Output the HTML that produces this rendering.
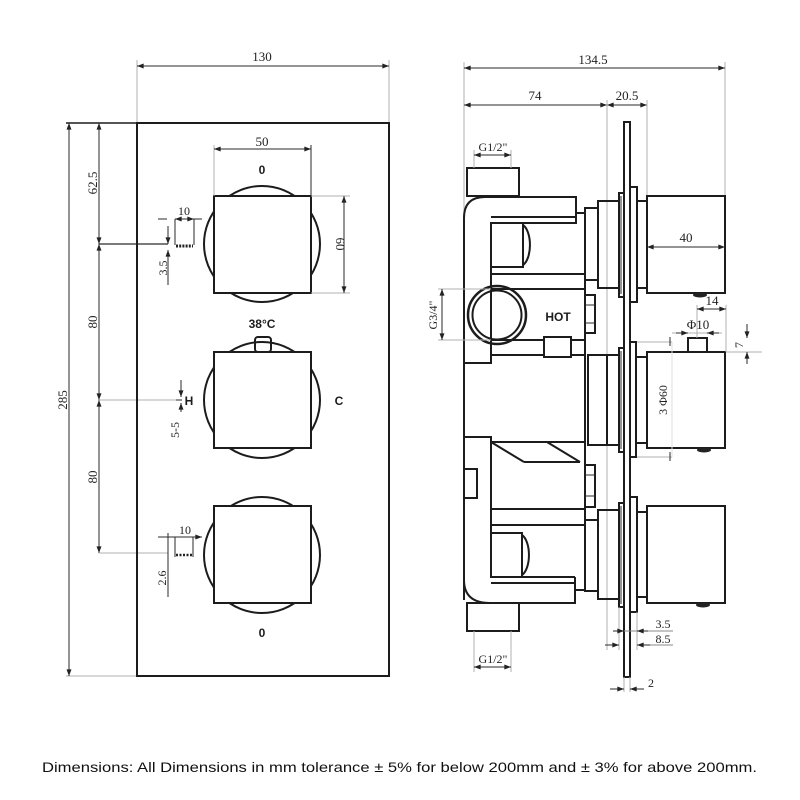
<!DOCTYPE html>
<html><head><meta charset="utf-8"><style>
html,body{margin:0;padding:0;background:#fff;}
svg{display:block;}
.o{fill:none;stroke:#1c1c1c;stroke-width:2;}
.w{fill:#fff;stroke:#1c1c1c;stroke-width:2;}
.d{fill:none;stroke:#2a2a2a;stroke-width:1;}
.g{fill:none;stroke:#b0b0b0;stroke-width:1;}
.t{font-family:"Liberation Serif",serif;font-size:13px;fill:#222;}
.b{font-family:"Liberation Sans",sans-serif;font-size:12px;font-weight:bold;fill:#1c1c1c;}
</style></head><body>
<svg width="800" height="800" viewBox="0 0 800 800" xmlns="http://www.w3.org/2000/svg">
<defs>
<marker id="a" viewBox="0 0 8 6" refX="8" refY="3" markerWidth="7" markerHeight="5" orient="auto-start-reverse" markerUnits="userSpaceOnUse"><path d="M0,0 L8,3 L0,6 z" fill="#222"/></marker>
</defs>

<!-- ================= LEFT: FRONT VIEW ================= -->
<!-- 130 dim -->
<line class="g" x1="137" y1="60" x2="137" y2="123"/>
<line class="g" x1="389" y1="60" x2="389" y2="123"/>
<line class="d" x1="137" y1="66" x2="389" y2="66" marker-start="url(#a)" marker-end="url(#a)"/>
<text class="t" x="262" y="61" text-anchor="middle">130</text>

<!-- 285 dim -->
<line class="o" x1="66" y1="123" x2="137" y2="123" style="stroke-width:1.5"/>
<line class="g" x1="66" y1="676" x2="137" y2="676"/>
<line class="d" x1="69" y1="123" x2="69" y2="676" marker-start="url(#a)" marker-end="url(#a)"/>
<text class="t" transform="translate(67,400) rotate(-90)" text-anchor="middle">285</text>

<!-- inner chain dims -->
<line class="d" x1="99" y1="123" x2="99" y2="244" marker-start="url(#a)" marker-end="url(#a)"/>
<line class="d" x1="99" y1="244" x2="99" y2="400" marker-start="url(#a)" marker-end="url(#a)"/>
<line class="d" x1="99" y1="400" x2="99" y2="553" marker-start="url(#a)" marker-end="url(#a)"/>
<text class="t" transform="translate(97,183) rotate(-90)" text-anchor="middle">62.5</text>
<text class="t" transform="translate(97,322) rotate(-90)" text-anchor="middle">80</text>
<text class="t" transform="translate(97,477) rotate(-90)" text-anchor="middle">80</text>
<line class="d" x1="99" y1="244" x2="168" y2="244" style="stroke-width:1.3"/>
<line class="g" x1="99" y1="400" x2="180" y2="400"/>
<line class="g" x1="99" y1="553" x2="168" y2="553"/>

<!-- plate -->
<rect class="o" x="137" y="123" width="252" height="553"/>

<!-- knob 1 -->
<circle class="o" cx="262" cy="244" r="58"/>
<rect class="w" x="214" y="196" width="97" height="97"/>
<!-- knob 2 -->
<rect class="o" x="255" y="337" width="16" height="15" rx="3"/>
<circle class="o" cx="262" cy="400" r="58"/>
<rect class="w" x="214" y="352" width="97" height="96"/>
<!-- knob 3 -->
<circle class="o" cx="262" cy="555" r="58"/>
<rect class="w" x="214" y="506" width="97" height="97"/>

<!-- 50 dim -->
<line class="g" x1="214" y1="145" x2="214" y2="196"/>
<line class="d" x1="311" y1="145" x2="311" y2="196"/>
<line class="d" x1="214" y1="149" x2="311" y2="149" marker-start="url(#a)" marker-end="url(#a)"/>
<text class="t" x="262" y="146" text-anchor="middle">50</text>
<text class="b" x="262" y="174" text-anchor="middle">0</text>

<!-- 60 dim -->
<line class="g" x1="311" y1="196" x2="350" y2="196"/>
<line class="g" x1="311" y1="293" x2="350" y2="293"/>
<line class="d" x1="344" y1="196" x2="344" y2="293" marker-start="url(#a)" marker-end="url(#a)"/>
<text class="t" transform="translate(336,244) rotate(90)" text-anchor="middle">60</text>

<!-- detail 10 / 3.5 -->
<line class="d" x1="158" y1="219" x2="167" y2="219"/>
<line class="d" x1="175" y1="219" x2="194" y2="219" marker-start="url(#a)" marker-end="url(#a)"/>
<line class="d" x1="194" y1="219" x2="202" y2="219"/>
<line class="d" x1="175" y1="219" x2="175" y2="245"/>
<line class="d" x1="194" y1="219" x2="194" y2="245"/>
<path d="M176 246 L193 246" stroke="#222" stroke-width="3" stroke-dasharray="2 1.2"/>
<text class="t" x="184" y="215" text-anchor="middle" style="font-size:12px">10</text>
<line class="d" x1="168" y1="226" x2="168" y2="244" marker-end="url(#a)"/>
<line class="d" x1="168" y1="250" x2="168" y2="285" marker-start="url(#a)"/>
<text class="t" transform="translate(167,268) rotate(-90)" text-anchor="middle" style="font-size:12px">3.5</text>

<!-- 38C, H, C -->
<text class="b" x="262" y="328" text-anchor="middle">38°C</text>
<line class="d" x1="181" y1="380" x2="181" y2="397" marker-end="url(#a)"/>
<line class="d" x1="181" y1="403" x2="181" y2="412" marker-start="url(#a)"/>
<line class="d" x1="176" y1="400" x2="182" y2="400"/>
<text class="b" x="189" y="405" text-anchor="middle">H</text>
<text class="t" transform="translate(179,430) rotate(-90)" text-anchor="middle" style="font-size:12px">5-5</text>
<line class="d" x1="172" y1="441" x2="172" y2="441"/>
<text class="b" x="339" y="405" text-anchor="middle">C</text>

<!-- detail bottom 10 / 2.6 -->
<line class="d" x1="158" y1="537" x2="202" y2="537" marker-end="url(#a)"/>
<line class="d" x1="168" y1="533" x2="168" y2="597"/>
<line class="d" x1="175" y1="537" x2="175" y2="557"/>
<line class="d" x1="193" y1="537" x2="193" y2="557"/>
<path d="M176 555 L193 555" stroke="#222" stroke-width="2.5" stroke-dasharray="2 1.5"/>
<text class="t" x="185" y="534" text-anchor="middle" style="font-size:12px">10</text>
<text class="t" transform="translate(166,578) rotate(-90)" text-anchor="middle" style="font-size:12px">2.6</text>

<text class="b" x="262" y="637" text-anchor="middle">0</text>

<!-- ================= RIGHT: SIDE VIEW ================= -->
<!-- top dims -->
<line class="g" x1="464" y1="62" x2="464" y2="215"/>
<line class="g" x1="725" y1="62" x2="725" y2="196"/>
<line class="d" x1="464" y1="68" x2="725" y2="68" marker-start="url(#a)" marker-end="url(#a)"/>
<text class="t" x="593" y="64" text-anchor="middle">134.5</text>
<line class="d" x1="464" y1="105" x2="607" y2="105" marker-start="url(#a)" marker-end="url(#a)"/>
<line class="d" x1="607" y1="105" x2="647" y2="105" marker-start="url(#a)" marker-end="url(#a)"/>
<text class="t" x="535" y="100" text-anchor="middle">74</text>
<text class="t" x="627" y="100" text-anchor="middle">20.5</text>
<line class="g" x1="607" y1="100" x2="607" y2="650"/>
<line class="g" x1="647" y1="100" x2="647" y2="196"/>

<!-- wall plate -->
<rect class="o" x="624" y="122" width="6" height="555"/>

<!-- knob side assemblies -->
<g>
<rect class="o" x="585" y="208" width="13" height="72"/>
<rect class="o" x="598" y="201" width="21" height="87"/>
<rect class="o" x="619" y="193" width="5" height="104"/>
<line class="d" x1="621" y1="196" x2="621" y2="294"/>
<rect class="o" x="630" y="187" width="7" height="115"/>
<rect class="o" x="637" y="201" width="10" height="87"/>
<rect class="o" x="647" y="196" width="78" height="97"/>
<ellipse cx="700" cy="295" rx="7" ry="2.5" fill="#222"/>
</g>
<g>
<rect class="o" x="588" y="355" width="19" height="90"/>
<rect class="o" x="607" y="355" width="12" height="90"/>
<rect class="o" x="619" y="348" width="5" height="104"/>
<line class="d" x1="621" y1="351" x2="621" y2="449"/>
<rect class="o" x="630" y="342" width="6" height="115"/>
<rect class="o" x="636" y="357" width="11" height="86"/>
<rect class="o" x="647" y="352" width="78" height="96"/>
<rect class="o" x="688" y="338" width="19" height="14"/>
<ellipse cx="704" cy="450" rx="7" ry="2.5" fill="#222"/>
</g>
<g>
<rect class="o" x="585" y="520" width="13" height="71"/>
<rect class="o" x="598" y="510" width="21" height="89"/>
<rect class="o" x="619" y="503" width="5" height="104"/>
<line class="d" x1="621" y1="506" x2="621" y2="604"/>
<rect class="o" x="630" y="497" width="7" height="115"/>
<rect class="o" x="637" y="512" width="10" height="85"/>
<rect class="o" x="647" y="506" width="78" height="97"/>
<ellipse cx="703" cy="605" rx="7" ry="2.5" fill="#222"/>
</g>

<!-- 40 dim -->
<line class="d" x1="647" y1="247" x2="725" y2="247" marker-start="url(#a)" marker-end="url(#a)"/>
<text class="t" x="686" y="242" text-anchor="middle">40</text>

<!-- 14 / phi10 / 7 -->
<line class="g" x1="697" y1="305" x2="697" y2="338"/>
<line class="g" x1="726" y1="305" x2="726" y2="352"/>
<line class="d" x1="697" y1="309" x2="726" y2="309" marker-start="url(#a)" marker-end="url(#a)"/>
<text class="t" x="712" y="305" text-anchor="middle">14</text>
<line class="g" x1="672" y1="333" x2="722" y2="333"/>
<line class="d" x1="676" y1="333" x2="688" y2="333" marker-end="url(#a)"/>
<line class="d" x1="719" y1="333" x2="707" y2="333" marker-end="url(#a)"/>
<text class="t" x="698" y="329" text-anchor="middle">Φ10</text>
<line class="g" x1="726" y1="352" x2="762" y2="352"/>
<line class="d" x1="747" y1="324" x2="747" y2="338" marker-end="url(#a)"/>
<line class="d" x1="747" y1="364" x2="747" y2="352" marker-end="url(#a)"/>
<text class="t" transform="translate(743,345) rotate(-90)" text-anchor="middle" style="font-size:12px">7</text>
<line class="g" x1="637" y1="342" x2="672" y2="342"/>
<line class="g" x1="637" y1="457" x2="672" y2="457"/>
<line class="d" x1="670" y1="337" x2="670" y2="346"/>
<line class="d" x1="670" y1="452" x2="670" y2="461"/>
<line class="g" x1="672" y1="342" x2="672" y2="457" style="stroke:#ddd"/>
<text class="t" transform="translate(667,400) rotate(-90)" text-anchor="middle" style="font-size:12px">3 Φ60</text>

<!-- body: top outlet -->
<rect class="o" x="467" y="168" width="52" height="28"/>
<line class="g" x1="474" y1="150" x2="474" y2="168"/>
<line class="g" x1="511" y1="150" x2="511" y2="168"/>
<line class="d" x1="474" y1="155" x2="511" y2="155" marker-start="url(#a)" marker-end="url(#a)"/>
<text class="t" x="493" y="151" text-anchor="middle" style="font-size:12px">G1/2"</text>

<!-- top pipe -->
<path class="o" d="M464 600 L464 218 Q464 197 485 197 L576 197 L576 223 L491 223 L491 363 L464 363"/>
<line class="o" x1="491" y1="217" x2="576" y2="217"/>
<line class="o" x1="576" y1="213" x2="585" y2="213"/>
<!-- cartridge top -->
<rect class="o" x="491" y="223" width="32" height="44"/>
<path class="o" d="M523 225 A10 21 0 0 1 523 265"/>
<line class="o" x1="491" y1="274" x2="585" y2="274"/>
<line class="o" x1="491" y1="289" x2="585" y2="289"/>
<line class="o" x1="585" y1="213" x2="585" y2="592"/>

<!-- HOT -->
<circle class="o" cx="497" cy="315" r="29" style="stroke-width:2.5"/>
<circle class="o" cx="497" cy="315" r="24.5"/>
<text class="b" x="558" y="321" text-anchor="middle">HOT</text>
<rect class="o" x="585" y="295" width="10" height="38"/>
<line class="d" x1="585" y1="305" x2="595" y2="305"/>
<line class="d" x1="585" y1="323" x2="595" y2="323"/>
<line class="o" x1="491" y1="340" x2="585" y2="340"/>
<line class="o" x1="491" y1="355" x2="585" y2="355"/>
<rect class="w" x="544" y="337" width="27" height="20"/>

<!-- G3/4 -->
<line class="g" x1="438" y1="289" x2="491" y2="289"/>
<line class="g" x1="438" y1="340" x2="491" y2="340"/>
<line class="d" x1="442" y1="289" x2="442" y2="340" marker-start="url(#a)" marker-end="url(#a)"/>
<text class="t" transform="translate(437,315) rotate(-90)" text-anchor="middle" style="font-size:12px">G3/4"</text>

<!-- lower block -->
<path class="o" d="M464 437 L491 437 L491 577"/>
<line class="o" x1="491" y1="442" x2="585" y2="442"/>
<line class="o" x1="491" y1="442" x2="524" y2="462"/>
<line class="o" x1="524" y1="462" x2="580" y2="462"/>
<line class="o" x1="547" y1="442" x2="580" y2="462"/>
<rect class="o" x="464" y="469" width="13" height="29"/>
<rect class="o" x="585" y="465" width="10" height="42"/>
<line class="d" x1="585" y1="475" x2="595" y2="475"/>
<line class="d" x1="585" y1="496" x2="595" y2="496"/>
<line class="o" x1="491" y1="509" x2="585" y2="509"/>
<line class="o" x1="491" y1="525" x2="585" y2="525"/>
<!-- bottom cartridge -->
<rect class="o" x="491" y="533" width="31" height="44"/>
<path class="o" d="M522 535 A10 21 0 0 1 522 575"/>
<!-- bottom pipe -->
<line class="o" x1="491" y1="577" x2="575" y2="577"/>
<line class="o" x1="491" y1="583" x2="575" y2="583"/>
<path class="o" d="M464 580 Q464 603 490 603 L575 603 L575 577"/>
<line class="o" x1="575" y1="590" x2="585" y2="590"/>
<rect class="o" x="467" y="603" width="52" height="28"/>
<line class="g" x1="474" y1="631" x2="474" y2="672"/>
<line class="g" x1="511" y1="631" x2="511" y2="672"/>
<line class="d" x1="474" y1="667" x2="511" y2="667" marker-start="url(#a)" marker-end="url(#a)"/>
<text class="t" x="493" y="663" text-anchor="middle" style="font-size:12px">G1/2"</text>

<!-- bottom small dims -->
<line class="g" x1="619" y1="607" x2="619" y2="650"/>
<line class="g" x1="637" y1="612" x2="637" y2="650"/>
<line class="d" x1="613" y1="631" x2="624" y2="631" marker-end="url(#a)"/>
<line class="d" x1="624" y1="631" x2="673" y2="631" style="stroke:#888"/>
<line class="d" x1="648" y1="631" x2="637" y2="631" marker-end="url(#a)"/>
<text class="t" x="663" y="628" text-anchor="middle" style="font-size:12px">3.5</text>
<line class="d" x1="605" y1="645" x2="619" y2="645" marker-end="url(#a)"/>
<line class="d" x1="637" y1="645" x2="673" y2="645" style="stroke:#888"/>
<line class="d" x1="650" y1="645" x2="637" y2="645" marker-end="url(#a)"/>
<text class="t" x="663" y="643" text-anchor="middle" style="font-size:12px">8.5</text>
<line class="g" x1="624" y1="677" x2="624" y2="692"/>
<line class="g" x1="630" y1="677" x2="630" y2="692"/>
<line class="d" x1="610" y1="689" x2="624" y2="689" marker-end="url(#a)"/>
<line class="d" x1="644" y1="689" x2="630" y2="689" marker-end="url(#a)"/>
<text class="t" x="651" y="687" text-anchor="middle" style="font-size:12px">2</text>

<!-- caption -->
<text x="42" y="772" textLength="715" lengthAdjust="spacingAndGlyphs" style="font-family:'Liberation Sans',sans-serif;font-size:14px;fill:#111;">Dimensions: All Dimensions in mm tolerance ± 5% for below 200mm and ± 3% for above 200mm.</text>
</svg>
</body></html>
